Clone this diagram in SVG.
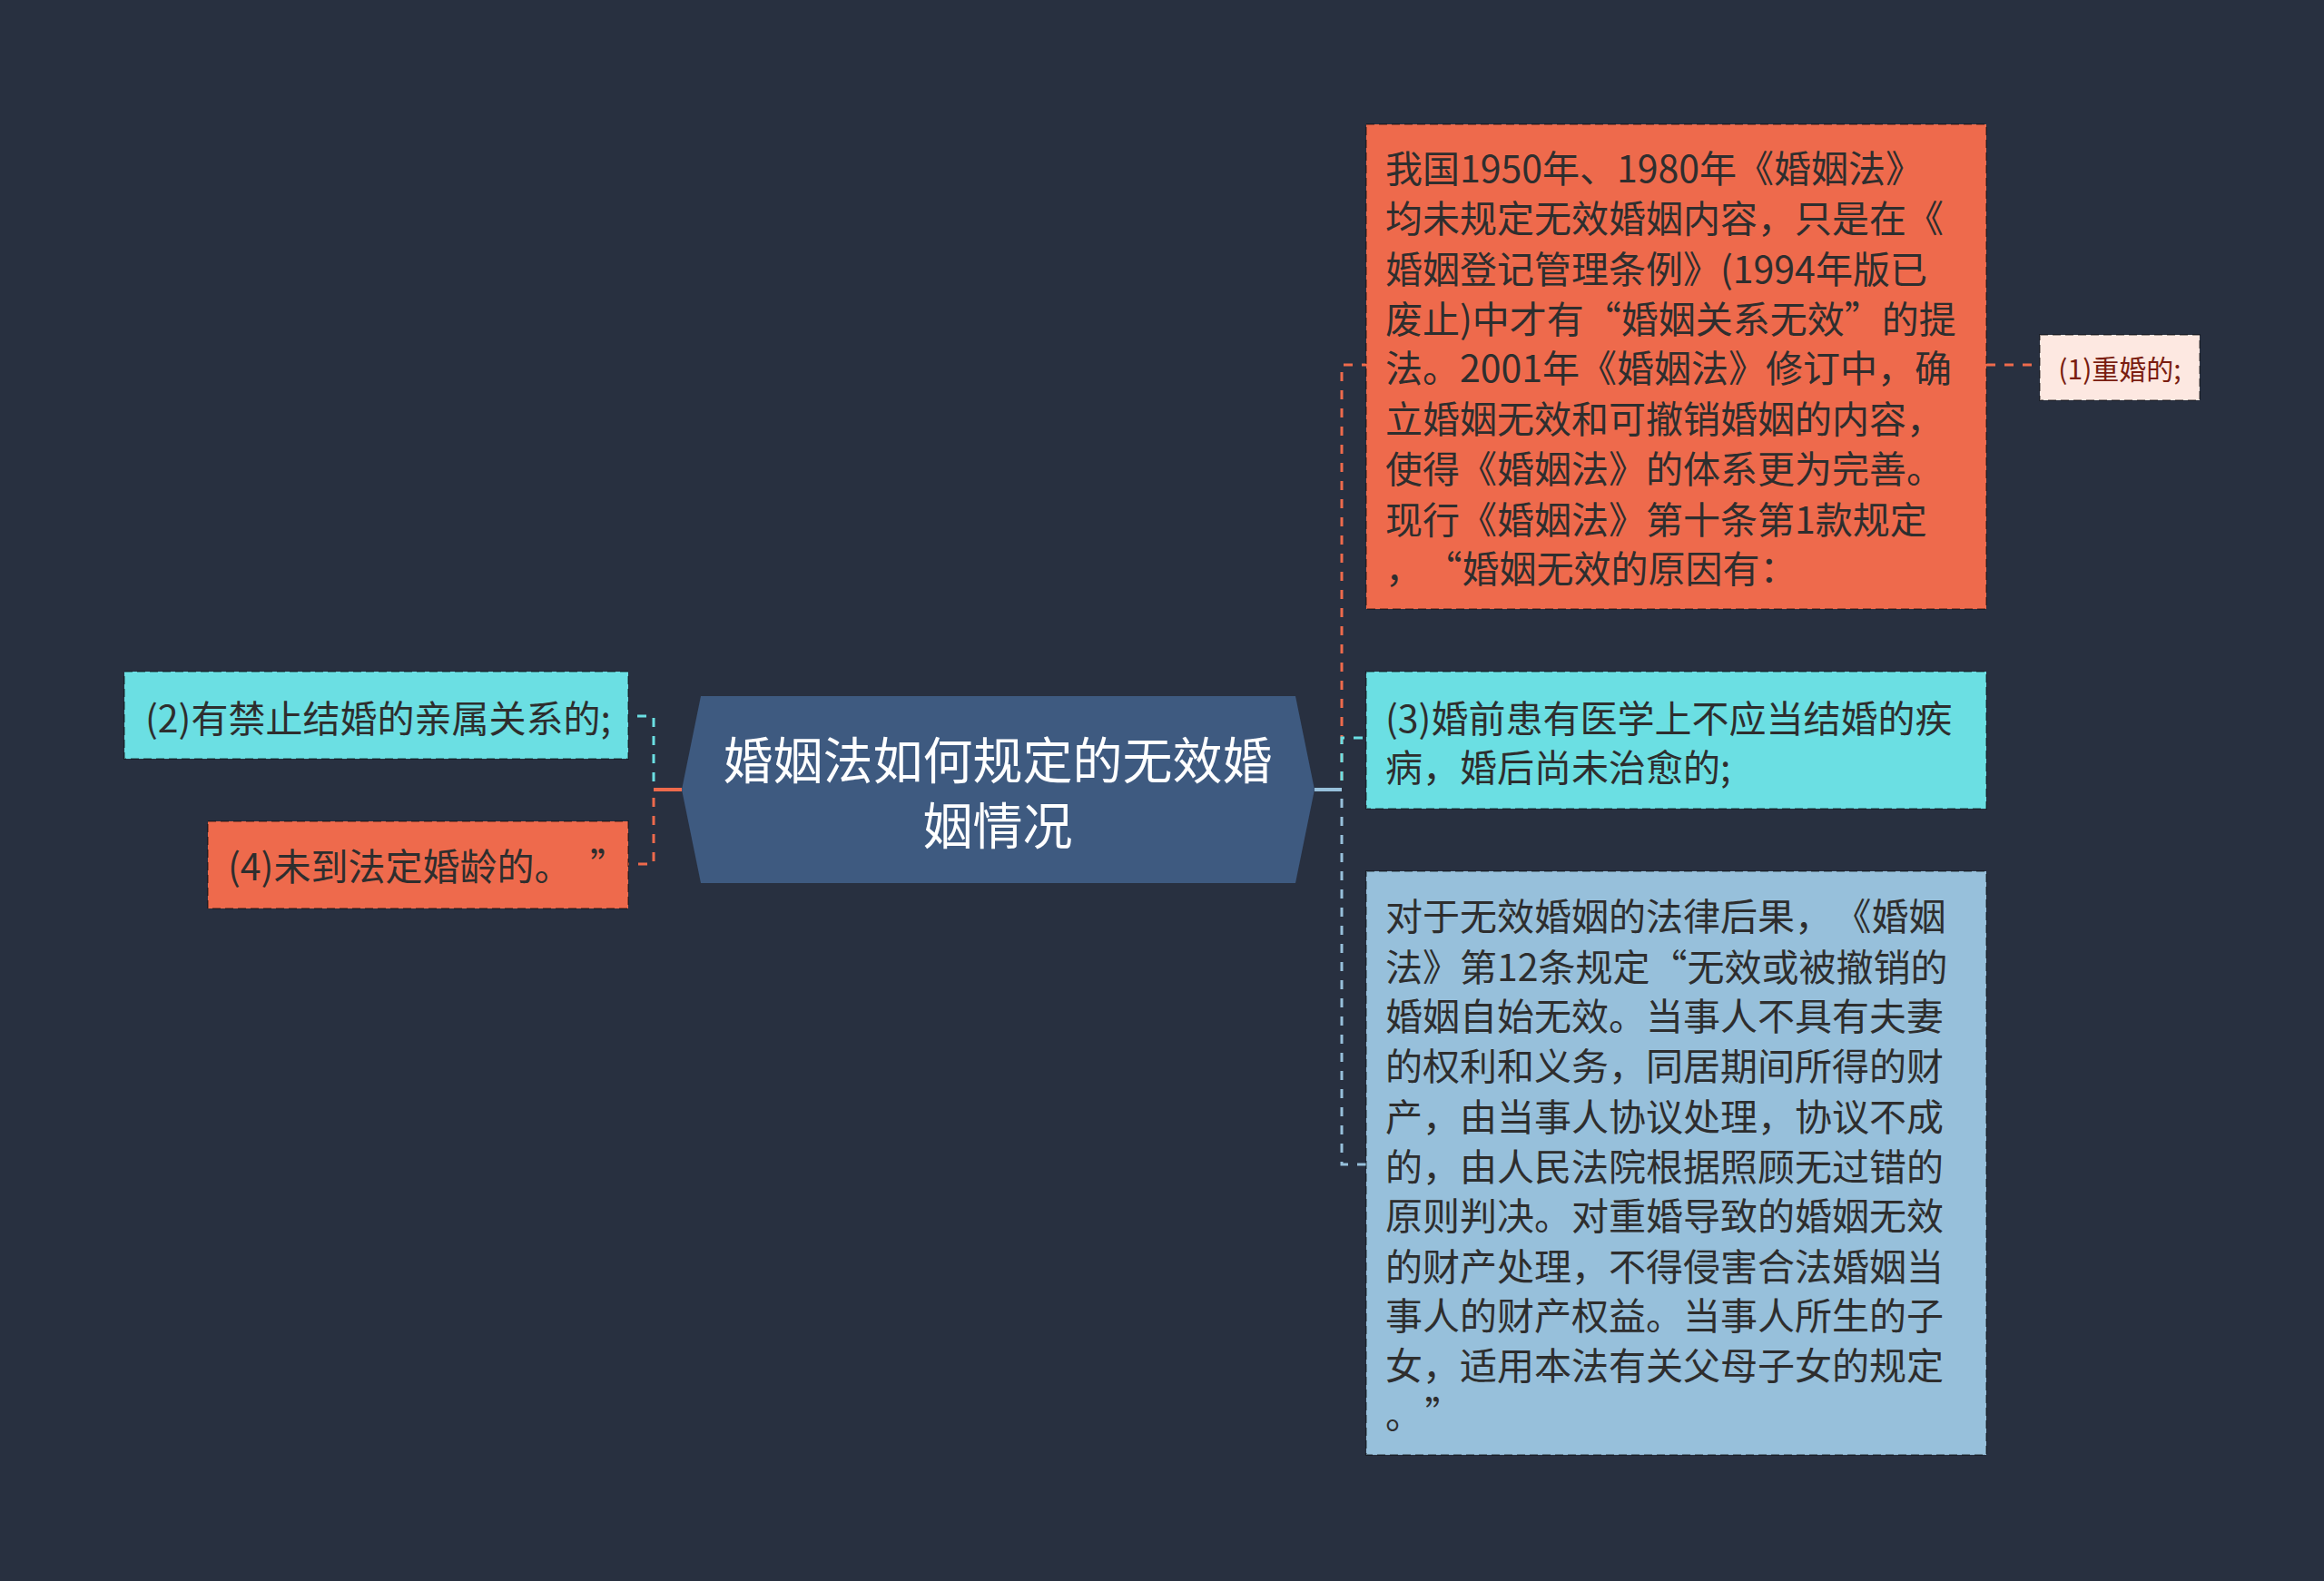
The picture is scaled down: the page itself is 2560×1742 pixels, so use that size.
<svg xmlns="http://www.w3.org/2000/svg" width="2560" height="1742" viewBox="0 0 2560 1742">
<style>
.t{font-family:"Noto Sans CJK SC","Noto Sans",sans-serif;font-size:41px;fill:#2e2e2e;dominant-baseline:central}
.c{font-family:"Noto Sans CJK SC","Noto Sans",sans-serif;font-size:55px;fill:#ffffff;dominant-baseline:central;text-anchor:middle}
.s{font-family:"Noto Sans CJK SC","Noto Sans",sans-serif;font-size:30px;fill:#7a1d10;dominant-baseline:central;text-anchor:middle}
.box{stroke:rgba(0,0,0,0.35);stroke-width:2;stroke-dasharray:9,5}
.ln{fill:none;stroke-width:3;stroke-dasharray:10,10}
</style>
<rect width="2560" height="1742" fill="#283040"/>
<g id="connectors">
<path class="ln" d="M1448,870 H1478 V402 H1505" stroke="#ee6a4c"/>
<path class="ln" d="M1448,870 H1478 V813 H1505" stroke="#6bdfe3"/>
<path class="ln" d="M1448,870 H1478 V1283 H1505" stroke="#97c0db"/>
<path d="M1448,870 H1478" stroke="#97c0db" stroke-width="4" fill="none"/>
<path class="ln" d="M2188,402 H2247" stroke="#ee6a4c"/>
<path class="ln" d="M751,870 H720 V789 H692" stroke="#6bdfe3"/>
<path class="ln" d="M751,870 H720 V952 H692" stroke="#ee6a4c"/>
<path d="M751,870 H720" stroke="#ee6a4c" stroke-width="4" fill="none"/>
</g>
<g id="center">
<polygon points="772,767 1427,767 1448,870 1427,973 772,973 751,870" fill="#3e5a80"/>
<text class="c" x="1099"><tspan x="1099" y="834">婚姻法如何规定的无效婚</tspan><tspan x="1099" y="906">姻情况</tspan></text>
</g>
<g id="n-top">
<rect class="box" x="1505" y="137" width="683" height="534" fill="#ee6a4c"/>
<text class="t"><tspan x="1526" y="183">我国1950年、1980年《婚姻法》</tspan><tspan x="1526" y="238">均未规定无效婚姻内容，只是在《</tspan><tspan x="1526" y="294">婚姻登记管理条例》(1994年版已</tspan><tspan x="1526" y="349">废止)中才有“婚姻关系无效”的提</tspan><tspan x="1526" y="403">法。2001年《婚姻法》修订中，确</tspan><tspan x="1526" y="459">立婚姻无效和可撤销婚姻的内容，</tspan><tspan x="1526" y="514">使得《婚姻法》的体系更为完善。</tspan><tspan x="1526" y="570">现行《婚姻法》第十条第1款规定</tspan><tspan x="1526" y="624">，&#8202;“婚姻无效的原因有：</tspan></text>
</g>
<g id="n-1">
<rect class="box" x="2247" y="369" width="176" height="72" fill="#fde8e1"/>
<text class="s" x="2335" y="405">(1)重婚的;</text>
</g>
<g id="n-3">
<rect class="box" x="1505" y="740" width="683" height="151" fill="#6bdfe3"/>
<text class="t"><tspan x="1526" y="789">(3)婚前患有医学上不应当结婚的疾</tspan><tspan x="1526" y="843">病，婚后尚未治愈的;</tspan></text>
</g>
<g id="n-bottom">
<rect class="box" x="1505" y="960" width="683" height="643" fill="#97c0db"/>
<text class="t"><tspan x="1526" y="1007">对于无效婚姻的法律后果，&#8202;《婚姻</tspan><tspan x="1526" y="1063">法》第12条规定“无效或被撤销的</tspan><tspan x="1526" y="1117">婚姻自始无效。当事人不具有夫妻</tspan><tspan x="1526" y="1172">的权利和义务，同居期间所得的财</tspan><tspan x="1526" y="1228">产，由当事人协议处理，协议不成</tspan><tspan x="1526" y="1283">的，由人民法院根据照顾无过错的</tspan><tspan x="1526" y="1337">原则判决。对重婚导致的婚姻无效</tspan><tspan x="1526" y="1393">的财产处理，不得侵害合法婚姻当</tspan><tspan x="1526" y="1447">事人的财产权益。当事人所生的子</tspan><tspan x="1526" y="1502">女，适用本法有关父母子女的规定</tspan><tspan x="1526" y="1556">。&#8202;”</tspan></text>
</g>
<g id="n-2">
<rect class="box" x="137" y="740" width="555" height="96" fill="#6bdfe3"/>
<text class="t" x="160" y="789">(2)有禁止结婚的亲属关系的;</text>
</g>
<g id="n-4">
<rect class="box" x="229" y="905" width="463" height="96" fill="#ee6a4c"/>
<text class="t" x="251" y="952">(4)未到法定婚龄的。&#8194;”</text>
</g>
</svg>
